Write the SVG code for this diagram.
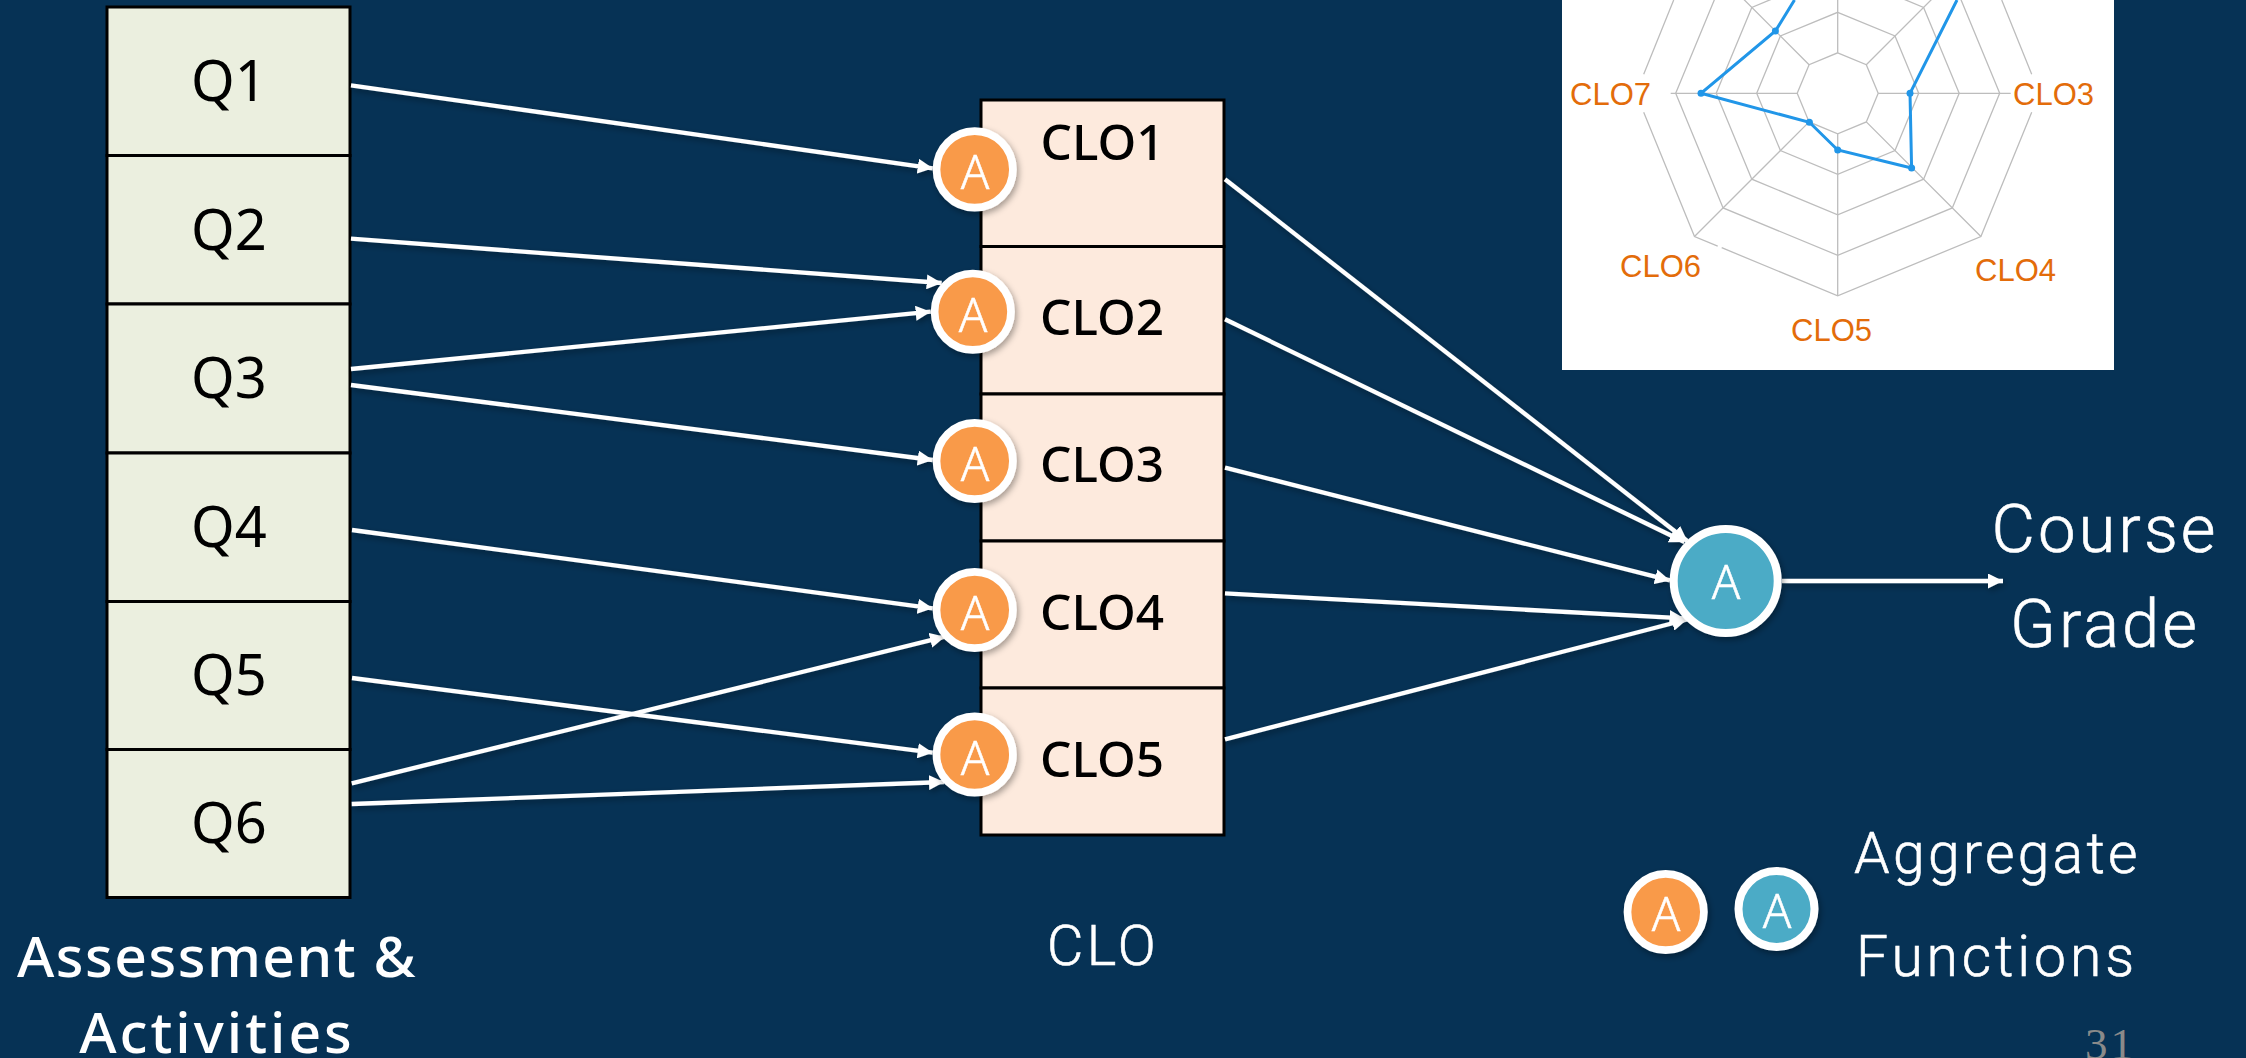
<svg xmlns="http://www.w3.org/2000/svg" width="2246" height="1058" viewBox="0 0 2246 1058">
<style>
.bg{fill:#063255}
.box{stroke:#000;stroke-width:3}
.q{fill:#ebefdf}.c{fill:#fdeadd}
.qt{font:400 56px "Noto Sans",sans-serif;fill:#000;text-anchor:middle}
.ct{font:500 49.500px "Noto Sans",sans-serif;fill:#000;text-anchor:middle}
.lab{font:500 57px "Noto Sans",sans-serif;fill:#fff;text-anchor:middle;letter-spacing:1.500px}
.big{font:300 67px Roboto,sans-serif;fill:#fff;stroke:#fff;stroke-width:.6;text-anchor:middle;letter-spacing:3px}
.mid{font:300 57px Roboto,sans-serif;fill:#fff;stroke:#fff;stroke-width:.6;text-anchor:middle;letter-spacing:3.300px}
.a{font:300 47px "Noto Sans",sans-serif;fill:#fff;stroke:#fff;stroke-width:.5;text-anchor:middle}
.o{fill:#f99a4a;stroke:#fff;stroke-width:7.700}
.t{fill:#4babc6;stroke:#fff;stroke-width:8}
.l{stroke:#fff;stroke-width:4.300;fill:none;marker-end:url(#ah)}
.g{stroke:#bdbdbd;stroke-width:1.300;fill:none}
.r{font:31px "Liberation Sans",sans-serif;fill:#e36c0a}
</style>
<defs><marker id="ah" viewBox="0 0 10 10" refX="10" refY="5" markerWidth="15" markerHeight="15" markerUnits="userSpaceOnUse" orient="auto"><path d="M0 0L10 5L0 10Z" fill="#fff"/></marker>
<filter id="s" x="-20%" y="-20%" width="140%" height="140%"><feDropShadow dx="2" dy="3" stdDeviation="3" flood-color="#000" flood-opacity=".35"/></filter></defs>
<rect class="bg" width="2246" height="1058"/>
<g id="radar">
<rect x="1562" y="0" width="552" height="370" fill="#fff"/>
<g class="g" transform="translate(1837.7 93.3)">
<polygon points="0,-40.500 28.600,-28.600 40.500,0 28.600,28.600 0,40.500 -28.600,28.600 -40.500,0 -28.600,-28.600"/>
<polygon points="0,-81 57.300,-57.300 81,0 57.300,57.300 0,81 -57.300,57.300 -81,0 -57.300,-57.300"/>
<polygon points="0,-121.500 85.900,-85.900 121.500,0 85.900,85.900 0,121.500 -85.900,85.900 -121.500,0 -85.900,-85.900"/>
<polygon points="0,-162 114.600,-114.600 162,0 114.600,114.600 0,162 -114.600,114.600 -162,0 -114.600,-114.600"/>
<path d="M164 -93.300L194 -19M194 19L143.200 143.200L0 202.500L-116 154.400M-120 152.800L-143.200 143.200L-194 19M-194 -19L-164 -93.300"/>
<path d="M0 -40.500V-202M0 40.500V202.500M-40.500 0H-167M40.500 0H173M-28.600 -28.600L-143.200 -143.200M28.600 -28.600L143.200 -143.200M-28.600 28.600L-143.200 143.200M28.600 28.600L143.200 143.200"/>
</g>
<path d="M1794.500 0L1775.400 31L1701 93.300L1809.400 122.300L1837.700 150L1911.600 168L1910 93.300L1957 0" stroke="#2196e8" stroke-width="3" fill="none"/>
<g fill="#2196e8"><circle cx="1775.400" cy="31" r="3.500"/><circle cx="1701" cy="93.300" r="3.500"/><circle cx="1809.400" cy="122.300" r="3.500"/><circle cx="1837.700" cy="150" r="3.500"/><circle cx="1911.600" cy="168" r="3.500"/><circle cx="1910" cy="93.300" r="3.500"/></g>
<text class="r" x="1570" y="105">CLO7</text>
<text class="r" x="2013" y="105">CLO3</text>
<text class="r" x="1620" y="277">CLO6</text>
<text class="r" x="1975" y="281">CLO4</text>
<text class="r" x="1791" y="341">CLO5</text>
</g>
<g id="q1"><rect class="box q" x="107" y="7" width="243" height="148.500"/><text class="qt" x="229" y="101">Q1</text></g>
<g id="q2"><rect class="box q" x="107" y="155.500" width="243" height="148.500"/><text class="qt" x="229" y="249.500">Q2</text></g>
<g id="q3"><rect class="box q" x="107" y="304" width="243" height="149"/><text class="qt" x="229" y="398">Q3</text></g>
<g id="q4"><rect class="box q" x="107" y="453" width="243" height="148.500"/><text class="qt" x="229" y="546.500">Q4</text></g>
<g id="q5"><rect class="box q" x="107" y="601.500" width="243" height="148"/><text class="qt" x="229" y="695">Q5</text></g>
<g id="q6"><rect class="box q" x="107" y="749.500" width="243" height="148"/><text class="qt" x="229" y="843">Q6</text></g>
<g id="clo1"><rect class="box c" x="981" y="100" width="243" height="146.500"/><text class="ct" x="1102.500" y="160">CLO1</text></g>
<g id="clo2"><rect class="box c" x="981" y="246.500" width="243" height="147.500"/><text class="ct" x="1102" y="335">CLO2</text></g>
<g id="clo3"><rect class="box c" x="981" y="394" width="243" height="147"/><text class="ct" x="1102" y="482">CLO3</text></g>
<g id="clo4"><rect class="box c" x="981" y="541" width="243" height="147"/><text class="ct" x="1102" y="630">CLO4</text></g>
<g id="clo5"><rect class="box c" x="981" y="688" width="243" height="147"/><text class="ct" x="1102" y="777">CLO5</text></g>
<g id="connectors" filter="url(#s)">
<path class="l" d="M351 85.300L932.700 168.300"/>
<path class="l" d="M351 238.700L941.700 283"/>
<path class="l" d="M351 369L930.700 311.700"/>
<path class="l" d="M351 385L932.700 460"/>
<path class="l" d="M352 530L932.700 608.300"/>
<path class="l" d="M352 678L932.700 752.700"/>
<path class="l" d="M351.700 783.300L945 636.700"/>
<path class="l" d="M351.700 804L944 782"/>
<path class="l" d="M1225 179.300L1687.300 541"/>
<path class="l" d="M1225 319.300L1684.500 542"/>
<path class="l" d="M1225 467.700L1670 580.400"/>
<path class="l" d="M1225 593.300L1684.500 618.400"/>
<path class="l" d="M1225 739.300L1687 619.500"/>
<path class="l" d="M1782 581H2003"/>
</g>
<g id="agg-1" filter="url(#s)"><circle class="o" cx="974.700" cy="169.400" r="38.200"/><text class="a" x="975" y="189.400">A</text></g>
<g id="agg-2" filter="url(#s)"><circle class="o" cx="972.800" cy="311.700" r="38.200"/><text class="a" x="973" y="331.700">A</text></g>
<g id="agg-3" filter="url(#s)"><circle class="o" cx="974.700" cy="461" r="38.200"/><text class="a" x="975" y="481">A</text></g>
<g id="agg-4" filter="url(#s)"><circle class="o" cx="974.700" cy="610" r="38.200"/><text class="a" x="975" y="630">A</text></g>
<g id="agg-5" filter="url(#s)"><circle class="o" cx="974.700" cy="754.500" r="38.200"/><text class="a" x="975" y="774.500">A</text></g>
<g id="course-agg" filter="url(#s)"><circle class="t" cx="1725.700" cy="581" r="52"/><text class="a" x="1726" y="599">A</text></g>
<g id="legend-orange" filter="url(#s)"><circle class="o" cx="1665.700" cy="912" r="38.200"/><text class="a" x="1666" y="931">A</text></g>
<g id="legend-teal" filter="url(#s)"><circle class="t" cx="1776.500" cy="909" r="38"/><text class="a" x="1777" y="928">A</text></g>
<text class="lab" x="217" y="977">Assessment &amp;</text>
<text class="lab" x="217" y="1053" style="letter-spacing:3px">Activities</text>
<text class="mid" x="1103" y="965" style="font-size:56px">CLO</text>
<text class="big" x="2105" y="552">Course</text>
<text class="big" x="2105" y="647">Grade</text>
<text class="mid" x="1997.500" y="873">Aggregate</text>
<text class="mid" x="1997" y="976" style="letter-spacing:3.900px">Functions</text>
<text x="2085" y="1059" style="font:45px 'Liberation Serif',serif;fill:#8a8a8a;letter-spacing:3px">31</text>
</svg>
